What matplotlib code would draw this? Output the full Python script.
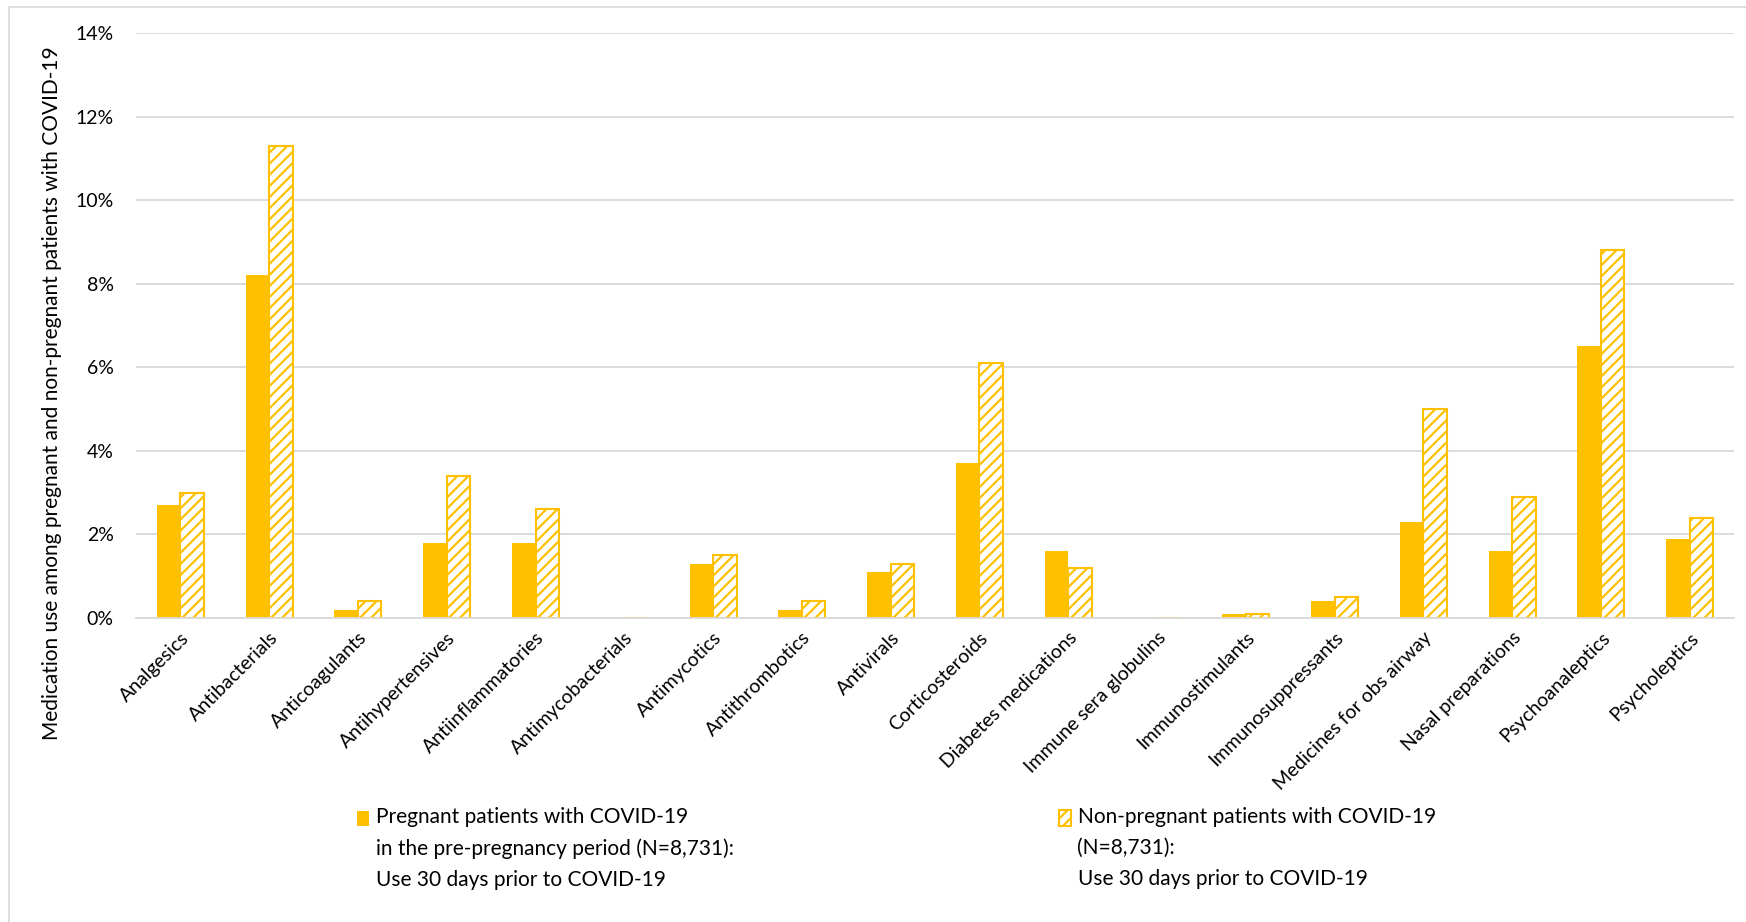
import numpy as np
import matplotlib
matplotlib.use("Agg")
import matplotlib.pyplot as plt
from matplotlib.patches import Rectangle
from matplotlib.legend_handler import HandlerPatch
from matplotlib.ticker import PercentFormatter

plt.rcParams['font.family'] = ['Lato', 'DejaVu Sans']
plt.rcParams['hatch.linewidth'] = 1.6

categories = ["Analgesics", "Antibacterials", "Anticoagulants", "Antihypertensives",
              "Antiinflammatories", "Antimycobacterials", "Antimycotics", "Antithrombotics",
              "Antivirals", "Corticosteroids", "Diabetes medications", "Immune sera globulins",
              "Immunostimulants", "Immunosuppressants", "Medicines for obs airway",
              "Nasal preparations", "Psychoanaleptics", "Psycholeptics"]
pregnant = [2.7, 8.2, 0.2, 1.8, 1.8, 0.0, 1.3, 0.2, 1.1, 3.7, 1.6, 0.0, 0.1, 0.4, 2.3, 1.6, 6.5, 1.9]
non_pregnant = [3.0, 11.3, 0.4, 3.4, 2.6, 0.0, 1.5, 0.4, 1.3, 6.1, 1.2, 0.0, 0.1, 0.5, 5.0, 2.9, 8.8, 2.4]

label_preg = "Pregnant patients with COVID-19\nin the pre-pregnancy period (N=8,731):\nUse 30 days prior to COVID-19"
label_non = "Non-pregnant patients with COVID-19\n(N=8,731):\nUse 30 days prior to COVID-19"

gold = "#FFC000"

fig = plt.figure(figsize=(17.46, 9.22), dpi=100)
ax = fig.add_axes([136/1746, 1-618/922, (1734-136)/1746, (618-33)/922])

x = np.arange(len(categories))
w = 0.265
b1 = ax.bar(x - w/2, pregnant, w, color=gold, label=label_preg)
b2 = ax.bar(x + w/2, non_pregnant, w, facecolor="white", edgecolor=gold, hatch="///",
            linewidth=1.5, label=label_non)

ax.set_xlim(-0.5, len(categories) - 0.5)
ax.set_ylim(0, 14)
ax.set_yticks(np.arange(0, 15, 2))
ax.yaxis.set_major_formatter(PercentFormatter(decimals=0))
ax.grid(axis="y", color="#D9D9D9", linewidth=1.3)
ax.set_axisbelow(True)
for s in ["left", "right", "top"]:
    ax.spines[s].set_visible(False)
ax.spines["bottom"].set_color("#D9D9D9")
ax.spines["bottom"].set_linewidth(1.3)
ax.tick_params(axis="both", length=0, labelsize=14)
ax.tick_params(axis="y", pad=16)
ax.tick_params(axis="x", pad=8)
ax.set_xticks(x)
ax.set_xticklabels(categories, rotation=45, ha="right", rotation_mode="anchor")
ax.set_ylabel("Medication use among pregnant and non-pregnant patients with COVID-19",
              fontsize=15, va="center")
ax.yaxis.set_label_coords((52 - 136)/1598, 0.385)


# small square handle sitting at the top line of a multi-line label
def top_square(legend, orig_handle, xdescent, ydescent, width, height, fontsize):
    s = 11
    return Rectangle((-xdescent, -ydescent + height - s + 12), 9, s)


hmap = {b1.patches[0]: HandlerPatch(patch_func=top_square),
        b2.patches[0]: HandlerPatch(patch_func=top_square)}

leg_kw = dict(loc="upper left", frameon=False, fontsize=15, handlelength=0.65,
              handleheight=3.0, handletextpad=0.25, handler_map=hmap, labelspacing=0)
leg1 = fig.legend([b1.patches[0]], [label_preg], bbox_to_anchor=(338/1746, 1-788/922), **leg_kw)
leg2 = fig.legend([b2.patches[0]], [label_non], bbox_to_anchor=(1040/1746, 1-788/922), **leg_kw)
for leg in (leg1, leg2):
    for t in leg.get_texts():
        t.set_linespacing(1.7)

fig.patches.append(Rectangle((9/1746, -0.01), 1.0, 1 - 7/922 + 0.01, transform=fig.transFigure,
                             fill=False, edgecolor="#D9D9D9", linewidth=1.2))

fig.savefig("out.png", dpi=100)
